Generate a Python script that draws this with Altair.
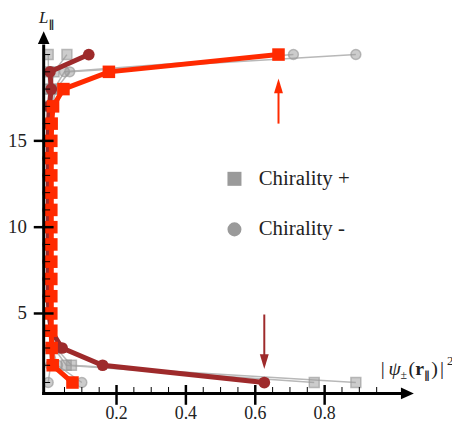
import altair as alt
import pandas as pd

# ---------------- data ----------------
L = list(range(1, 21))

bright_plus = [0.073, 0.016, 0.013, 0.012, 0.012, 0.012, 0.012, 0.012, 0.012, 0.012,
               0.012, 0.012, 0.012, 0.012, 0.012, 0.013, 0.017, 0.047, 0.178, 0.667]
dark_minus = [0.626, 0.160, 0.043, 0.012, 0.005, 0.003, 0.003, 0.003, 0.003, 0.003,
              0.003, 0.003, 0.003, 0.003, 0.003, 0.004, 0.006, 0.012, 0.008, 0.120]

gray_plus_a = [0.770, 0.055, 0.020, 0.010, 0.006, 0.005, 0.004, 0.004, 0.004, 0.004,
               0.004, 0.004, 0.004, 0.004, 0.004, 0.004, 0.004, 0.004, 0.004, 0.003]
gray_plus_b = [0.890, 0.070, 0.025, 0.012, 0.008, 0.006, 0.005, 0.005, 0.005, 0.005,
               0.005, 0.005, 0.005, 0.005, 0.006, 0.007, 0.009, 0.012, 0.020, 0.057]
gray_minus_a = [0.003, 0.010, 0.008, 0.006, 0.005, 0.004, 0.004, 0.004, 0.004, 0.004,
                0.004, 0.004, 0.004, 0.005, 0.006, 0.008, 0.012, 0.020, 0.050, 0.710]
gray_minus_b = [0.100, 0.030, 0.015, 0.010, 0.007, 0.006, 0.005, 0.005, 0.005, 0.005,
                0.005, 0.005, 0.005, 0.006, 0.007, 0.010, 0.015, 0.025, 0.065, 0.890]

legend_labels = ["Chirality +", "Chirality -"]

x_major = [0.2, 0.4, 0.6, 0.8]
x_major_labels = ["0.2", "0.4", "0.6", "0.8"]
x_minor = [0.05, 0.10, 0.15, 0.25, 0.30, 0.35, 0.45, 0.50, 0.55, 0.65, 0.70, 0.75,
           0.85, 0.90, 0.95]
y_major = [5, 10, 15]
y_major_labels = ["5", "10", "15"]
y_minor = [v for v in L if v not in y_major]

arrow_x = [0.667, 0.626]
arrow_from = [16.0, 4.94]
arrow_to = [17.9, 2.5]
arrow_head = [18.19, 2.21]
arrow_kind = ["up", "down"]

# ---------------- style ----------------
BRIGHT = "#ff2a00"
DARK = "#9e2a2b"
GRAY = "#aaaaaa"
FONT = "Liberation Serif"
SYMFONT = "DejaVu Sans"

XMIN, XMAX = -0.01, 1.0586
YMIN, YMAX = 0.37, 21.5
W, H = 374, 368

xs = alt.Scale(domain=[XMIN, XMAX], nice=False, zero=False)
ys = alt.Scale(domain=[YMIN, YMAX], nice=False, zero=False)


def X(field="x"):
    return alt.X(f"{field}:Q", scale=xs, axis=None)


def Y(field="y"):
    return alt.Y(f"{field}:Q", scale=ys, axis=None)


gray_rows = []
for name, chir, vals in [("pa", legend_labels[0], gray_plus_a),
                         ("pb", legend_labels[0], gray_plus_b),
                         ("ma", legend_labels[1], gray_minus_a),
                         ("mb", legend_labels[1], gray_minus_b)]:
    for l, v in zip(L, vals):
        gray_rows.append({"x": v, "y": l, "series": name, "chirality": chir})
gray_df = pd.DataFrame(gray_rows)

bright_df = pd.DataFrame({"x": bright_plus, "y": L})
dark_df = pd.DataFrame({"x": dark_minus, "y": L})

gray_lines = alt.Chart(gray_df).mark_line(color="#b8b8b8", strokeWidth=1.5).encode(
    x=X(), y=Y(), detail="series:N", order="y:Q")

gray_pts = alt.Chart(gray_df).mark_point(
    filled=True, size=100, color="#9a9a9a", fillOpacity=0.5, strokeOpacity=0.65,
    strokeWidth=1.5, stroke="#9a9a9a").encode(
    x=X(), y=Y(),
    shape=alt.Shape("chirality:N",
                    scale=alt.Scale(domain=legend_labels, range=["square", "circle"]),
                    legend=alt.Legend(title=None, orient="none", legendX=182, legendY=141,
                                      symbolSize=200, symbolFillColor=GRAY,
                                      symbolStrokeColor=GRAY, symbolOpacity=1,
                                      symbolStrokeWidth=0,
                                      labelFont=FONT, labelFontSize=21, labelColor="#222222",
                                      labelOffset=14, rowPadding=29, padding=0)))

dark_line = alt.Chart(dark_df).mark_line(color=DARK, strokeWidth=5).encode(
    x=X(), y=Y(), order="y:Q")
dark_pts = alt.Chart(dark_df).mark_circle(color=DARK, size=140, opacity=1).encode(
    x=X(), y=Y())

bright_line = alt.Chart(bright_df).mark_line(color=BRIGHT, strokeWidth=5).encode(
    x=X(), y=Y(), order="y:Q")
bright_pts = alt.Chart(bright_df).mark_square(color=BRIGHT, size=160, opacity=1).encode(
    x=X(), y=Y())

arr_df = pd.DataFrame({"x": arrow_x, "y": arrow_from, "y2": arrow_to,
                       "yh": arrow_head, "kind": arrow_kind})
arr_rules = alt.Chart(arr_df).mark_rule(strokeWidth=2).encode(
    x=X(), y=Y(), y2="y2:Q",
    color=alt.Color("kind:N", scale=alt.Scale(domain=arrow_kind, range=[BRIGHT, DARK]),
                    legend=None))
arr_heads = alt.Chart(arr_df).mark_point(filled=True, size=225, opacity=1).encode(
    x=X(), y=Y("yh"),
    color=alt.Color("kind:N", scale=alt.Scale(domain=arrow_kind, range=[BRIGHT, DARK]),
                    legend=None),
    shape=alt.Shape("kind:N", scale=alt.Scale(
        domain=arrow_kind,
        range=["M0,-1L0.6,1L-0.6,1Z", "M0,1L0.6,-1L-0.6,-1Z"]), legend=None))

axis_src = pd.DataFrame({"k": [0]})
y_axis_line = alt.Chart(axis_src).mark_rule(color="black", strokeWidth=3).encode(
    x=alt.value(0), y=alt.value(H + 1.5), y2=alt.value(16))
y_axis_head = alt.Chart(axis_src).mark_point(
    filled=True, color="black", opacity=1, size=169, shape="M0,-1L0.9,1L-0.9,1Z").encode(
    x=alt.value(0), y=alt.value(9))
x_axis_line = alt.Chart(axis_src).mark_rule(color="black", strokeWidth=3).encode(
    y=alt.value(H), x=alt.value(-1.5), x2=alt.value(361))
x_axis_head = alt.Chart(axis_src).mark_point(
    filled=True, color="black", opacity=1, size=169, shape="M1,0L-1,-0.9L-1,0.9Z").encode(
    x=alt.value(367), y=alt.value(H))

xmaj_df = pd.DataFrame({"x": x_major, "label": x_major_labels})
xmin_df = pd.DataFrame({"x": x_minor})
ymaj_df = pd.DataFrame({"y": y_major, "label": y_major_labels})
ymin_df = pd.DataFrame({"y": y_minor})

x_major_ticks = alt.Chart(xmaj_df).mark_tick(
    orient="vertical", size=20, thickness=2.5, color="black", opacity=1).encode(
    x=X(), y=alt.value(H + 1.5))
x_minor_ticks = alt.Chart(xmin_df).mark_tick(
    orient="vertical", size=7, thickness=1, color="black", opacity=1).encode(
    x=X(), y=alt.value(H - 3))
x_labels = alt.Chart(xmaj_df).mark_text(
    font=FONT, fontSize=18, baseline="top", color="#222222").encode(
    x=X(), y=alt.value(H + 12), text="label:N")

y_major_ticks = alt.Chart(ymaj_df).mark_tick(
    orient="horizontal", size=20, thickness=2.5, color="black", opacity=1).encode(
    y=Y(), x=alt.value(0))
y_minor_ticks = alt.Chart(ymin_df).mark_tick(
    orient="horizontal", size=7, thickness=1, color="black", opacity=1).encode(
    y=Y(), x=alt.value(3))
y_labels = alt.Chart(ymaj_df).mark_text(
    font=FONT, fontSize=19, align="right", baseline="middle", color="#222222").encode(
    y=Y(), x=alt.value(-17), text="label:N")


def txt(s, x, y, size=18, style="normal", weight="normal", align="left", font=FONT):
    return alt.Chart(axis_src).mark_text(
        text=s, font=font, fontSize=size, fontStyle=style, fontWeight=weight,
        align=align, baseline="alphabetic", color="#222222").encode(
        x=alt.value(x), y=alt.value(y))


PAR = "\u2225"
y_title = [txt("L", 0, -6, size=17, style="italic", align="center"),
           txt(PAR, 5, -1, size=11, weight="bold", font=SYMFONT)]
x_title = [txt("|", 340, 349, size=20),
           txt("ψ", 348, 349, size=20, style="italic"),
           txt("±", 360, 353, size=12),
           txt("(", 368, 349, size=20),
           txt("r", 375, 349, size=20, weight="bold"),
           txt(PAR, 384, 353, size=11, weight="bold", font=SYMFONT),
           txt(")", 391, 349, size=20),
           txt("|", 400, 349, size=20),
           txt("2", 407, 339, size=13)]

layers = [gray_lines, gray_pts, dark_line, dark_pts, bright_line, bright_pts,
          arr_rules, arr_heads,
          x_minor_ticks, y_minor_ticks, y_axis_line, x_axis_line,
          y_axis_head, x_axis_head, x_major_ticks, y_major_ticks,
          x_labels, y_labels] + y_title + x_title

chart = alt.layer(*layers).resolve_scale(color="independent", shape="independent").properties(
    width=W, height=H,
    autosize=alt.AutoSizeParams(type="none"),
    padding={"left": 36, "top": 19, "right": 38, "bottom": 27},
    background="white",
).configure(
    view=alt.ViewConfig(stroke="white", strokeOpacity=0, strokeWidth=1),
)

chart.save("out.html", embed_options={"renderer": "svg", "actions": False})
